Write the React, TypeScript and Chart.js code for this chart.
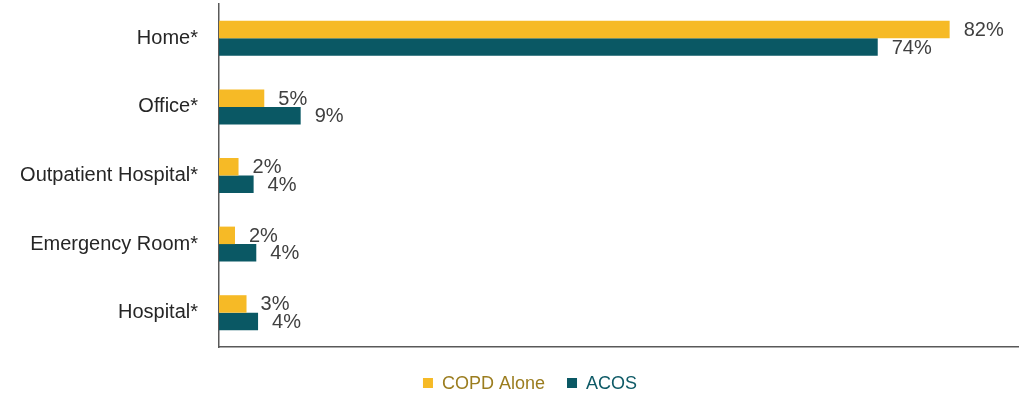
import React, { useEffect, useRef } from "react";
import { Chart, registerables } from "chart.js";

Chart.register(...registerables);

const categories = ["Home*", "Office*", "Outpatient Hospital*", "Emergency Room*", "Hospital*"];
const copdAlone = [82.3, 5.1, 2.2, 1.8, 3.1];
const acos = [74.2, 9.2, 3.9, 4.2, 4.4];
const copdLabels = ["82%", "5%", "2%", "2%", "3%"];
const acosLabels = ["74%", "9%", "4%", "4%", "4%"];
const seriesNames = ["COPD Alone", "ACOS"];

const GOLD = "#F6BA26";
const TEAL = "#0A5864";
const FONT = "'Liberation Sans', Arial, sans-serif";

const valueLabelPlugin = {
  id: "valueLabels",
  afterDatasetsDraw(chart: any) {
    const ctx = chart.ctx;
    const all = [copdLabels, acosLabels];
    ctx.save();
    ctx.font = `20px ${FONT}`;
    ctx.fillStyle = "#404040";
    ctx.textAlign = "left";
    ctx.textBaseline = "middle";
    chart.data.datasets.forEach((ds: any, di: number) => {
      const meta = chart.getDatasetMeta(di);
      meta.data.forEach((el: any, i: number) => {
        ctx.fillText(all[di][i], el.x + 14, el.y + 1);
      });
    });
    ctx.restore();
  },
};

const legendPlugin = {
  id: "customLegend",
  afterDraw(chart: any) {
    const ctx = chart.ctx;
    ctx.save();
    ctx.font = `18px ${FONT}`;
    ctx.textBaseline = "middle";
    ctx.textAlign = "left";
    const box = 10;
    const gap = 9;
    const itemGap = 22;
    const textColors = ["#9B7D1F", "#0E5A66"];
    const widths = seriesNames.map((n) => box + gap + ctx.measureText(n).width);
    const total = widths.reduce((a, b) => a + b, 0) + itemGap * (widths.length - 1);
    const cx = 530;
    const cy = 384;
    let x = cx - total / 2;
    seriesNames.forEach((n, i) => {
      const ds = chart.data.datasets[i];
      ctx.fillStyle = ds.backgroundColor;
      ctx.fillRect(x, cy - box / 2 - 1, box, box);
      ctx.fillStyle = textColors[i];
      ctx.fillText(n, x + box + gap, cy);
      x += widths[i] + itemGap;
    });
    ctx.restore();
  },
};

export default function App() {
  const ref = useRef<HTMLCanvasElement | null>(null);
  useEffect(() => {
    if (!ref.current) return;
    const chart = new Chart(ref.current, {
      type: "bar",
      data: {
        labels: categories,
        datasets: [
          { label: seriesNames[0], data: copdAlone, backgroundColor: GOLD, barPercentage: 1, categoryPercentage: 0.51 },
          { label: seriesNames[1], data: acos, backgroundColor: TEAL, barPercentage: 1, categoryPercentage: 0.51 },
        ],
      },
      options: {
        indexAxis: "y",
        animation: false,
        responsive: false,
        layout: { padding: { top: 4, right: 5, bottom: 51, left: 0 } },
        plugins: { legend: { display: false }, tooltip: { enabled: false } },
        scales: {
          x: {
            min: 0,
            max: 90,
            ticks: { display: false },
            grid: { display: false, drawTicks: false },
            border: { display: true, color: "#595959", width: 1.5 },
            afterFit(axis: any) {
              axis.height = 0;
            },
          },
          y: {
            ticks: { color: "#262626", font: { family: FONT, size: 20 }, padding: 21 },
            grid: { display: false, drawTicks: false },
            border: { display: true, color: "#595959", width: 1.5 },
            afterFit(axis: any) {
              axis.width = 219;
              axis.paddingTop = 0;
              axis.paddingBottom = 0;
            },
          },
        },
      },
      plugins: [valueLabelPlugin, legendPlugin],
    });
    return () => chart.destroy();
  }, []);
  return (
    <div style={{ position: "fixed", left: 0, top: 0, width: 1023, height: 398, background: "#fff" }}>
      <canvas ref={ref} width={1023} height={398} />
    </div>
  );
}
